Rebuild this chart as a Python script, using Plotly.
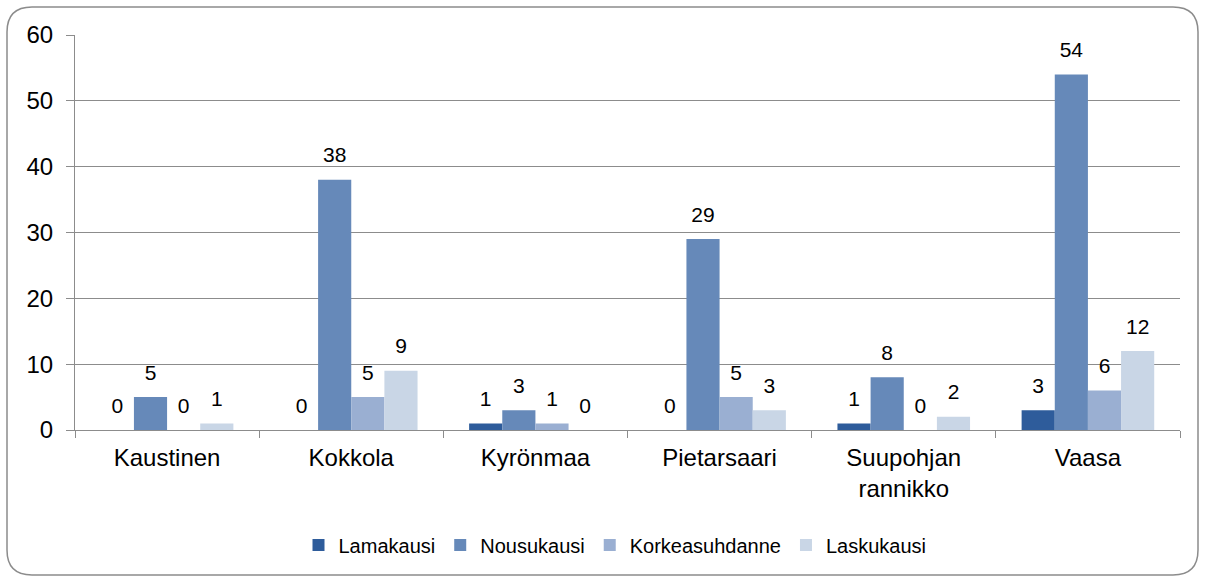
import plotly.graph_objects as go

categories = ["Kaustinen", "Kokkola", "Kyrönmaa", "Pietarsaari", "Suupohjan<br>rannikko", "Vaasa"]
series_names = ["Lamakausi", "Nousukausi", "Korkeasuhdanne", "Laskukausi"]
lamakausi = [0, 0, 1, 0, 1, 3]
nousukausi = [5, 38, 3, 29, 8, 54]
korkeasuhdanne = [0, 5, 1, 5, 0, 6]
laskukausi = [1, 9, 0, 3, 2, 12]
colors = ["#2E5C9B", "#6689B9", "#9AAFD2", "#C9D6E6"]
y_ticks = [0, 10, 20, 30, 40, 50, 60]

W, H = 1205, 578
ML, MR, MT, MB = 75, 25, 35, 148
PW, PH = W - ML - MR, H - MT - MB
FONT = "Liberation Sans, Arial"

all_series = [lamakausi, nousukausi, korkeasuhdanne, laskukausi]

fig = go.Figure()
for name, vals, col in zip(series_names, all_series, colors):
    fig.add_trace(go.Bar(
        x=categories, y=vals, name=name, marker_color=col, marker_line_width=0,
        hoverinfo="x+y+name",
    ))
# data labels, positioned by the grouped scatter layout so they sit over each bar
for name, vals in zip(series_names, all_series):
    fig.add_trace(go.Scatter(
        x=categories, y=vals, mode="markers+text", text=[str(v) for v in vals],
        textposition="top center", marker=dict(size=18, opacity=0),
        textfont=dict(family=FONT, size=21, color="#000000"),
        showlegend=False, hoverinfo="skip", cliponaxis=False,
    ))

def px(x):
    return (x - ML) / PW

def py(y):
    return (H - MB - y) / PH

x0, x1, y0, y1, r = 7, 1198, 7, 575, 25
path = (f"M {px(x0+r)},{py(y0)} L {px(x1-r)},{py(y0)} "
        f"Q {px(x1)},{py(y0)} {px(x1)},{py(y0+r)} L {px(x1)},{py(y1-r)} "
        f"Q {px(x1)},{py(y1)} {px(x1-r)},{py(y1)} L {px(x0+r)},{py(y1)} "
        f"Q {px(x0)},{py(y1)} {px(x0)},{py(y1-r)} L {px(x0)},{py(y0+r)} "
        f"Q {px(x0)},{py(y0)} {px(x0+r)},{py(y0)} Z")

fig.update_layout(
    width=W, height=H,
    margin=dict(l=ML, r=MR, t=MT, b=MB),
    paper_bgcolor="white", plot_bgcolor="white",
    barmode="group", bargap=0.28, bargroupgap=0,
    scattermode="group", scattergap=0.28,
    font=dict(family=FONT, color="#000000"),
    showlegend=True,
    legend=dict(orientation="h", x=px(615), xanchor="center", y=py(545), yanchor="middle",
                font=dict(size=20), traceorder="normal"),
    shapes=[dict(type="path", path=path, xref="paper", yref="paper",
                 line=dict(color="#8c8c8c", width=1.5), layer="below")],
)
fig.update_yaxes(range=[0, 60], tickvals=y_ticks, showgrid=True, gridcolor="#8c8c8c", gridwidth=1,
                 showline=True, linecolor="#8c8c8c", ticks="outside", ticklen=8, tickcolor="#8c8c8c",
                 tickfont=dict(size=24), zeroline=False, ticklabelstandoff=8)
fig.update_xaxes(showline=True, linecolor="#8c8c8c", ticks="outside", ticklen=7, tickcolor="#8c8c8c",
                 tickson="boundaries", tickfont=dict(size=24), ticklabelstandoff=6)

fig.write_html("out.html", config={"displayModeBar": False},
               post_script="document.body.style.margin='0';document.body.style.overflow='hidden';")
